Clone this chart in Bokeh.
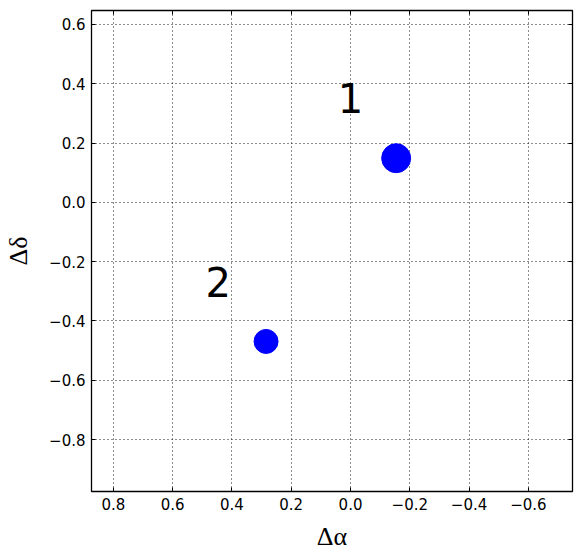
from bokeh.plotting import figure
from bokeh.models import Range1d, FixedTicker, LinearAxis, CustomJSTickFormatter, ColumnDataSource
from bokeh.core.properties import value
from bokeh.embed import file_html
from bokeh.resources import INLINE

# data
x_ticks = [0.8, 0.6, 0.4, 0.2, 0.0, -0.2, -0.4, -0.6]
y_ticks = [0.6, 0.4, 0.2, 0.0, -0.2, -0.4, -0.6, -0.8]
d_alpha = [-0.154, 0.285]
d_delta = [0.149, -0.469]
label_text = ["1", "2"]
label_alpha = [0.0, 0.446]
label_delta = [0.352, -0.27]

p = figure(width=580, height=557,
           x_range=Range1d(0.874, -0.749), y_range=Range1d(-0.975, 0.647),
           output_backend="svg", toolbar_location=None,
           min_border_left=91, min_border_top=10, min_border_right=8, min_border_bottom=66)

p.outline_line_color = "black"
p.outline_line_width = 1.3
p.background_fill_color = "white"
p.border_fill_color = "white"

fmt = CustomJSTickFormatter(code="""
if (Math.abs(tick) < 1e-9) return '0.0';
return tick.toFixed(1).replace('-', '\u2212');
""")
blank = CustomJSTickFormatter(code="return '';")

for ax, ticks in ((p.xaxis[0], x_ticks), (p.yaxis[0], y_ticks)):
    ax.ticker = FixedTicker(ticks=ticks)
    ax.formatter = fmt
    ax.major_tick_in = 4
    ax.major_tick_out = 0
    ax.minor_tick_in = 0
    ax.minor_tick_out = 0
    ax.major_tick_line_color = "black"
    ax.axis_line_color = None
    ax.major_label_text_font = "DejaVu Sans"
    ax.major_label_text_font_size = "15px"
    ax.major_label_text_color = "black"
    ax.major_label_standoff = 6
    ax.axis_label_text_font = "Liberation Serif"
    ax.axis_label_text_font_size = "26px"
    ax.axis_label_text_font_style = "normal"
    ax.axis_label_text_color = "black"

p.xaxis[0].axis_label = "Δα"
p.yaxis[0].axis_label = "Δδ"
p.xaxis[0].axis_label_standoff = 9
p.yaxis[0].axis_label_standoff = 13

top = LinearAxis(ticker=FixedTicker(ticks=x_ticks), formatter=blank, major_tick_in=4, major_tick_out=0,
                 minor_tick_in=0, minor_tick_out=0, axis_line_color=None, major_label_standoff=0)
right = LinearAxis(ticker=FixedTicker(ticks=y_ticks), formatter=blank, major_tick_in=4, major_tick_out=0,
                   minor_tick_in=0, minor_tick_out=0, axis_line_color=None, major_label_standoff=0)
p.add_layout(top, "above")
p.add_layout(right, "right")

p.xgrid.ticker = FixedTicker(ticks=x_ticks)
p.ygrid.ticker = FixedTicker(ticks=y_ticks)
for g in (p.xgrid[0], p.ygrid[0]):
    g.grid_line_color = "black"
    g.grid_line_dash = "1 3"
    g.grid_line_width = 1
    g.grid_line_alpha = 0.9

src = ColumnDataSource(dict(x=d_alpha, y=d_delta, s=[29, 24]))
p.scatter("x", "y", size="s", source=src, fill_color="blue", line_color="blue")

lsrc = ColumnDataSource(dict(x=label_alpha, y=label_delta, t=label_text))
p.text("x", "y", text="t", source=lsrc, text_align="center", text_baseline="alphabetic",
       text_font=value("DejaVu Sans"), text_font_size="40px", text_color="black")

open("out.html", "w").write(file_html(p, INLINE))
